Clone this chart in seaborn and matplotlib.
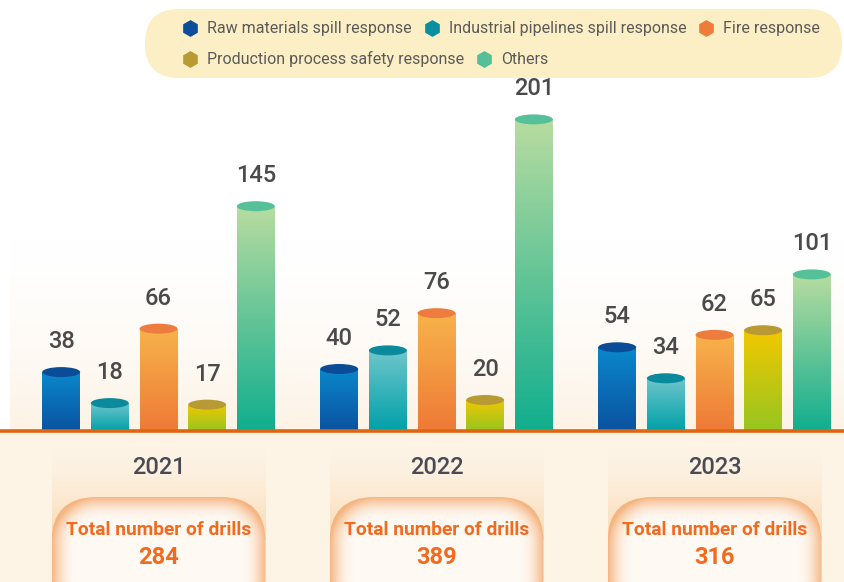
import numpy as np
import pandas as pd
import matplotlib
matplotlib.use("Agg")
import matplotlib.pyplot as plt
from matplotlib.patches import Ellipse, FancyBboxPatch, Rectangle
from matplotlib.colors import to_rgb
import seaborn as sns

# data
years = ["2021", "2022", "2023"]
categories = ["Raw materials spill response", "Industrial pipelines spill response",
              "Fire response", "Production process safety response", "Others"]
raw_materials = [38, 40, 54]
industrial_pipelines = [18, 52, 34]
fire = [66, 76, 62]
production_safety = [17, 20, 65]
others = [145, 201, 101]

# colours: cap / gradient top / gradient bottom
cap_colors = ["#0a4d96", "#0a8a9c", "#ee7c3e", "#b89a35", "#55c09a"]
top_colors = ["#0a88cc", "#6ec6cc", "#f7b34b", "#f2c800", "#b8dca0"]
bottom_colors = ["#0a52a0", "#00a0a8", "#ee7a36", "#96c520", "#10ae8e"]

series = [raw_materials, industrial_pipelines, fire, production_safety, others]
df = pd.DataFrame({
    "year": [y for s in series for y in years],
    "category": [c for c, s in zip(categories, series) for _ in years],
    "value": [v for s in series for v in s],
})
totals = df.groupby("year")["value"].sum()

sns.set_style("white")
plt.rcParams["font.family"] = ["Roboto", "DejaVu Sans"]

W, H = 844, 582
base_px = 431
fig = plt.figure(figsize=(W / 100, H / 100), dpi=100)
fig.patch.set_facecolor("white")

# background / decoration axes in pixel coordinates
bg = fig.add_axes([0, 0, 1, 1], zorder=0)
bg.set_xlim(0, W)
bg.set_ylim(H, 0)
bg.axis("off")

grad = np.linspace(0, 1, 100)[:, None, None]
c0 = np.array(to_rgb("#ffffff"))
c1 = np.array(to_rgb("#fdf3e6"))
bg.imshow(c0 + (c1 - c0) * grad ** 1.5, extent=[10, W, base_px, 240], aspect="auto", zorder=0)
bg.add_patch(Rectangle((0, base_px), W, H - base_px, fc="#fdf4e6", ec="none", zorder=0))

# main bar axes
ymax = 278
ax = fig.add_axes([0, (H - base_px) / H, 1, base_px / H], zorder=1)
ax.patch.set_alpha(0)
sns.barplot(data=df, x="year", y="value", hue="category", order=years, hue_order=categories,
            palette=dict(zip(categories, cap_colors)), width=0.875, gap=0.22,
            legend=False, ax=ax)
ppu = base_px / ymax  # pixels per unit

for i, cont in enumerate(ax.containers):
    top = np.array(to_rgb(top_colors[i]))
    bot = np.array(to_rgb(bottom_colors[i]))
    g = top + (bot - top) * np.linspace(0, 1, 200)[:, None, None]
    for bar in cont:
        x0, w, h = bar.get_x(), bar.get_width(), bar.get_height()
        bar.set_facecolor("none")
        bar.set_edgecolor("none")
        im = ax.imshow(g, extent=[x0, x0 + w, 0, h], origin="upper", aspect="auto", zorder=2)
        im.set_clip_path(bar)
        ax.add_patch(Ellipse((x0 + w / 2, h), w, 10 / ppu, fc=cap_colors[i], ec="none", zorder=3))
        ax.annotate(f"{h:.0f}", (x0 + w / 2, h), xytext=(0, 22), textcoords="offset points",
                    ha="center", va="center", fontsize=17, color="#4a4a4a", fontweight="medium")

ax.set_xlim(-158.5 / 278, (W - 158.5) / 278)
ax.set_ylim(0, ymax)
ax.axhline(0, color="#e0650f", lw=2.6, zorder=5, clip_on=False)
ax.axis("off")

# year panels with totals
band = np.array(to_rgb("#fdf4e6")) + (np.array(to_rgb("#fbd8b2")) - np.array(to_rgb("#fdf4e6"))) \
    * np.linspace(0, 1, 100)[:, None, None] ** 1.5
pw, r = 214, 45
for i, yr in enumerate(years):
    cx = ax.transData.transform((i, 0))[0]
    bg.imshow(band, extent=[cx - pw / 2, cx + pw / 2, 540, 448], aspect="auto", zorder=1)
    # pill with orange glow on the edges
    px0, py0, ph = cx - pw / 2, 497, 125
    pill = FancyBboxPatch((px0, py0), pw, ph, boxstyle=f"round,pad=0,rounding_size={r}",
                          fc="none", ec="none", zorder=2)
    bg.add_patch(pill)
    xs = np.arange(px0, px0 + pw, 1.0) + 0.5
    ys = np.arange(py0, py0 + ph, 1.0) + 0.5
    X, Y = np.meshgrid(xs, ys)
    qx = np.abs(X - cx) - (pw / 2 - r)
    qy = np.abs(Y - (py0 + ph / 2)) - (ph / 2 - r)
    d = np.hypot(np.maximum(qx, 0), np.maximum(qy, 0)) + np.minimum(np.maximum(qx, qy), 0) - r
    t = np.clip(-d / 24, 0, 1)[..., None]
    edge = np.array(to_rgb("#f5b581"))
    center = np.array(to_rgb("#fff9f3"))
    img = edge + (center - edge) * (1 - (1 - t) ** 2)
    pim = bg.imshow(img, extent=[px0, px0 + pw, py0 + ph, py0], aspect="auto", zorder=2)
    pim.set_clip_path(pill)
    bg.text(cx, 468, yr, ha="center", va="center", fontsize=17, color="#4a4a55",
            fontweight="medium", zorder=3)
    bg.text(cx, 530, "Total number of drills", ha="center", va="center", fontsize=13.8,
            color="#f26a1e", fontweight="bold", zorder=3)
    bg.text(cx, 558, f"{totals[yr]}", ha="center", va="center", fontsize=17,
            color="#f26a1e", fontweight="bold", zorder=3)

# legend
bg.add_patch(FancyBboxPatch((145, 9), 697, 69, boxstyle="round,pad=0,rounding_size=34",
                            fc="#fdefc5", ec="none", zorder=1))
legend_colors = ["#0b4f9b", "#0a8fa0", "#f07c3c", "#b89c33", "#55bf98"]
fig.canvas.draw()
renderer = fig.canvas.get_renderer()
rows = [(28, [0, 1, 2]), (59, [3, 4])]
for y, idx in rows:
    x = 190
    for k in idx:
        bg.plot([x], [y], marker="h", ms=11, color=legend_colors[k], ls="", zorder=3)
        t = bg.text(x + 17, y, categories[k], ha="left", va="center", fontsize=11.5,
                    color="#5a5a5a", zorder=3)
        bb = t.get_window_extent(renderer)
        x = bb.x1 + 20

fig.savefig("out.png", dpi=100, facecolor="white")
